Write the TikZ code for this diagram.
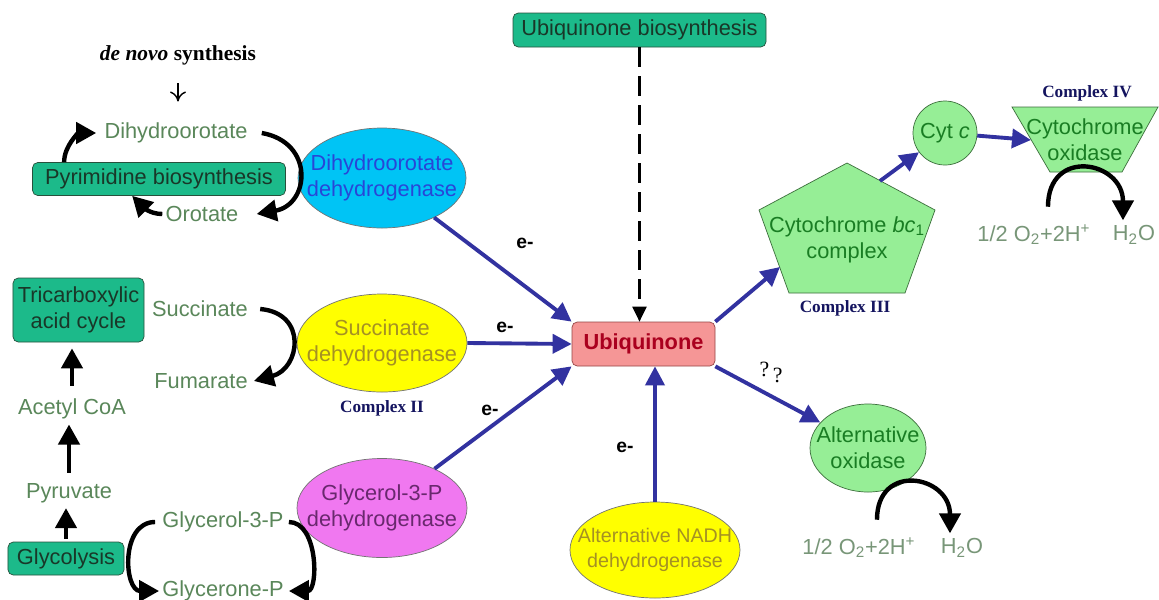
\documentclass[tikz,border=0pt]{standalone}
\usepackage{amsmath}
\usepackage{fontspec}
\setmainfont{Liberation Sans}
\newfontfamily\serifface{Liberation Serif}
\usepackage{tikz}
\usepackage{xcolor}
\usetikzlibrary{positioning,shapes,arrows.meta}

\definecolor{boxgreen}{RGB}{28,186,138}
\definecolor{boxedge}{RGB}{40,80,60}
\definecolor{boxtext}{RGB}{25,55,40}
\definecolor{mettext}{RGB}{90,135,90}
\definecolor{o2text}{RGB}{120,150,120}
\definecolor{skyfill}{RGB}{0,196,245}
\definecolor{skytext}{RGB}{40,70,215}
\definecolor{yelfill}{RGB}{255,255,0}
\definecolor{yeltext}{RGB}{165,145,35}
\definecolor{magfill}{RGB}{240,120,240}
\definecolor{magtext}{RGB}{105,40,110}
\definecolor{lgfill}{RGB}{150,238,150}
\definecolor{lgedge}{RGB}{60,110,60}
\definecolor{lgtext}{RGB}{25,125,35}
\definecolor{ubqfill}{RGB}{245,150,150}
\definecolor{ubqedge}{RGB}{150,70,70}
\definecolor{ubqtext}{RGB}{170,0,30}
\definecolor{arrowblue}{RGB}{50,50,160}
\definecolor{navylabel}{RGB}{20,20,95}

\begin{document}
\begin{tikzpicture}[scale=0.2]
\tikzstyle{every node}+=[inner sep=0pt, font=\fontsize{12.4}{14.8}\selectfont]
\tikzstyle{met}=[text=mettext]
\tikzstyle{o2}=[text=o2text]
\tikzstyle{greenbox}=[draw=boxedge, fill=boxgreen, rounded corners=3pt, text=boxtext, align=center]
\tikzstyle{enzyme}=[ellipse, draw=black!55, inner xsep=-0.5cm, align=center]
\tikzstyle{cplxlabel}=[font=\serifface\bfseries\fontsize{9.8}{11}\selectfont, text=navylabel]
\tikzstyle{eminus}=[font=\bfseries\fontsize{11}{13}\selectfont]
\tikzstyle{elec}=[draw=arrowblue, line width=2.2pt, -{Triangle[length=0.38cm,width=0.38cm]}]
\tikzstyle{react}=[black, line width=2.5pt, -{Triangle[length=0.4cm,width=0.42cm]}]
\path [use as bounding box, fill=white] (0,0) rectangle (115.9,-59.9);
\node (denovo) at (17.8,-5.5) [font=\serifface\bfseries\fontsize{12.2}{14}\selectfont] {{\itshape de novo} synthesis};
\node [met] (dho) at (17.6,-13.3) {Dihydroorotate};
\node [met] (oro) at (20.2,-21.4) {Orotate};
\node [greenbox, minimum width=5.06cm, minimum height=0.66cm] (pyr) at (15.9,-17.9) {Pyrimidine biosynthesis};
\node [enzyme, fill=skyfill, text=skytext, minimum width=3.36cm, minimum height=2cm] (dhodh) at (38.2,-17.8) {Dihydroorotate\\dehydrogenase};
\node [greenbox, minimum width=5.06cm, minimum height=0.68cm] (ubqbio) at (63.95,-3.0) {Ubiquinone biosynthesis};
\node [draw=ubqedge, fill=ubqfill, rounded corners=3pt, text=ubqtext, font=\bfseries\fontsize{12.4}{14.8}\selectfont, minimum width=2.86cm, minimum height=0.88cm] (ubq) at (64.35,-34.4) {Ubiquinone};
\node [greenbox, minimum width=2.62cm, minimum height=1.28cm] (tca) at (7.85,-31.0) {Tricarboxylic\\acid cycle};
\node [met] (succ) at (20.0,-30.9) {Succinate};
\node [met] (fum) at (20.1,-38.1) {Fumarate};
\node [enzyme, fill=yelfill, text=yeltext, minimum width=3.4cm, minimum height=1.96cm] (sdh) at (38.2,-34.3) {Succinate\\dehydrogenase};
\node [cplxlabel] (cplx2) at (38.2,-40.8) {Complex II};
\node [met] (acoa) at (7.2,-40.9) {Acetyl CoA};
\node [met] (pyv) at (6.9,-49.3) {Pyruvate};
\node [greenbox, minimum width=2.32cm, minimum height=0.66cm] (glyc) at (6.6,-55.85) {Glycolysis};
\node [met] (g3p) at (22.3,-52.2) {Glycerol-3-P};
\node [met] (dhap) at (22.3,-59.1) {Glycerone-P};
\node [enzyme, fill=magfill, text=magtext, minimum width=3.4cm, minimum height=1.98cm] (g3pdh) at (38.2,-50.8) {Glycerol-3-P\\dehydrogenase};
\node [enzyme, fill=yelfill, text=yeltext, font=\fontsize{11.2}{14}\selectfont, minimum width=3.4cm, minimum height=1.92cm] (andh) at (65.5,-55.0) {Alternative NADH\\dehydrogenase};
\node [enzyme, fill=lgfill, draw=lgedge, text=lgtext, minimum width=2.32cm, minimum height=1.76cm] (aox) at (86.8,-44.8) {Alternative\\oxidase};
\filldraw [fill=lgfill, draw=lgedge, thin] (84.7,-16.3) -- (93.5,-21.0) -- (90.5,-29.3) -- (78.9,-29.3) -- (75.9,-21.0) -- cycle;
\node [text=lgtext, align=center] (bc) at (84.7,-24.0) {Cytochrome \textit{bc}\textsubscript{1}\\complex};
\node [cplxlabel] (cplx3) at (84.5,-30.8) {Complex III};
\node [circle, draw=lgedge, fill=lgfill, text=lgtext, minimum size=1.28cm] (cytc) at (94.5,-13.3) {Cyt \textit{c}};
\filldraw [fill=lgfill, draw=lgedge, thin] (101.2,-10.7) -- (115.8,-10.7) -- (112.2,-17.2) -- (105.0,-17.2) -- cycle;
\node [text=lgtext, align=center] (cox) at (108.5,-14.0) {Cytochrome\\oxidase};
\node [cplxlabel] (cplx4) at (108.7,-9.3) {Complex IV};
\node [o2] (o2a) at (103.4,-23.5) {1/2 O\textsubscript{2}+2H\textsuperscript{+}};
\node [o2] (h2oa) at (113.4,-23.5) {H\textsubscript{2}O};
\node [o2] (o2b) at (85.9,-54.8) {1/2 O\textsubscript{2}+2H\textsuperscript{+}};
\node [o2] (h2ob) at (96.2,-54.8) {H\textsubscript{2}O};
\node [eminus] (e1) at (52.5,-24.3) {e-};
\node [eminus] (e2) at (50.5,-32.7) {e-};
\node [eminus] (e3) at (49.0,-41.0) {e-};
\node [eminus] (e4) at (62.5,-44.7) {e-};
\node [font=\serifface\fontsize{12.4}{14}\selectfont] (qq) at (77.1,-37.2) {?\,\raisebox{-0.6ex}{?}};
\coordinate (bcin) at (78.0,-26.7);
\coordinate (bcout) at (88.0,-18.1);
\coordinate (coxin) at (103.1,-14.0);
\draw [black, line width=0.8pt, -{To[length=0.2cm,width=0.32cm]}, shorten <=0.36cm, shorten >=0.42cm] (denovo.south) -- (denovo.south |- dho.north);
\draw [react] ([shift={(3.2,0)}]pyr.north west) to[out=90,in=180] ([shift={(-0.8,0)}]dho.west);
\draw [react] ([shift={(1.4,0)}]dho.east) to[out=-10,in=10,looseness=1.7] ([shift={(1.8,0)}]oro.east);
\draw [react] ([shift={(-0.3,0)}]oro.west) to[out=180,in=-45] ([shift={(10.0,0)}]pyr.south west);
\draw [react] ([shift={(1.2,0)}]succ.east) to[out=-5,in=15,looseness=1.7] ([shift={(0.6,0)}]fum.east);
\draw [react, shorten <=0.26cm, shorten >=0.12cm] (acoa.north) -- (acoa.north |- tca.south);
\draw [react, shorten <=0.2cm, shorten >=0.1cm] (pyv.north) -- (pyv.north |- acoa.south);
\draw [react, shorten <=0.06cm, shorten >=0.1cm] (glyc.north) -- (glyc.north |- pyv.south);
\draw [react] ([shift={(-0.7,0)}]g3p.west) to[out=180,in=180,looseness=1.3] ([shift={(-0.3,0)}]dhap.west);
\draw [react] ([shift={(0.5,0)}]g3p.east) to[out=0,in=0,looseness=1.1] ([shift={(0.5,0)}]dhap.east);
\draw [react] ([shift={(1.8,1.8)}]o2b.north) to[out=90,in=90,looseness=2.0] ([shift={(-1.2,0.5)}]h2ob.north);
\draw [react] ([shift={(1.4,1.8)}]o2a.north) to[out=90,in=90,looseness=2.0] ([shift={(-1.1,0.5)}]h2oa.north);
\draw [black, line width=1.2pt, dash pattern=on 0.4cm off 0.18cm, -{Triangle[length=0.3cm,width=0.28cm]}] (ubqbio.south) -- (ubqbio.south |- ubq.north);
\draw [elec] (dhodh) -- (ubq.north west);
\draw [elec] (sdh.east) -- (ubq.west);
\draw [elec] (g3pdh) -- (ubq.south west);
\draw [elec] (andh.north) -- (andh.north |- ubq.south);
\draw [elec] (ubq.north east) -- (bcin);
\draw [elec] (bcout) -- (cytc);
\draw [elec] (cytc) -- (coxin);
\draw [elec] (ubq.south east) -- (aox);
\end{tikzpicture}
\end{document}
